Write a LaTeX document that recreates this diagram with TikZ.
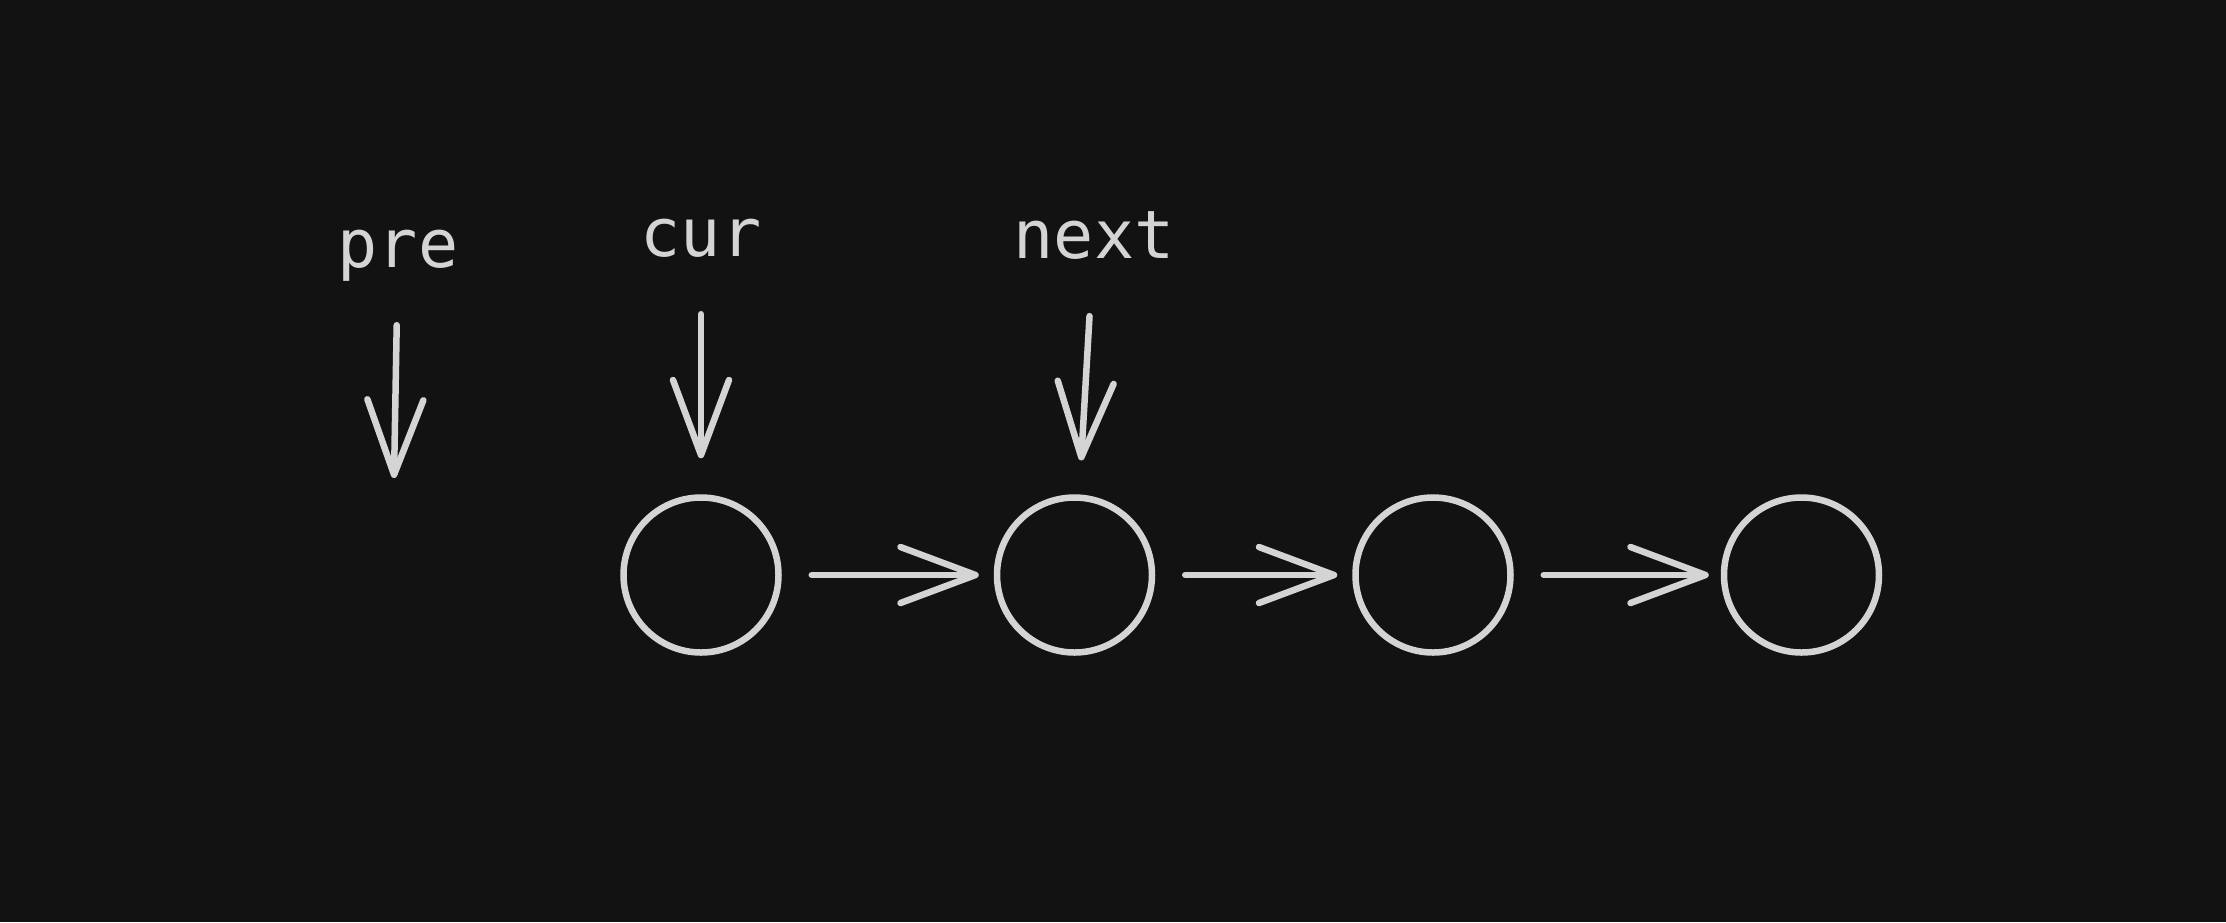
\documentclass[tikz,border=0pt]{standalone}
\usepackage{fontspec}
\setmonofont{DejaVu Sans Mono}
\usetikzlibrary{positioning,arrows.meta}
\definecolor{bgdark}{HTML}{121212}
\definecolor{chalk}{HTML}{D4D4D4}
\begin{document}
\begin{tikzpicture}[x=0.1mm,y=-0.1mm,node distance=21mm,
  listnode/.style={circle,draw=chalk,line width=0.65mm,minimum size=15.5mm,inner sep=0pt},
  ptrlabel/.style={text=chalk,font=\ttfamily\fontsize{19}{19}\selectfont,anchor=base,text depth=0.25em},
  link/.style={draw=chalk,line width=0.65mm,line cap=round,line join=round,
    -{Straight Barb[length=7.5mm,width=5.6mm,round]}},
  ptr/.style={link,shorten <=3.7mm}]
\fill[bgdark] (0,0) rectangle (2226,922);
\useasboundingbox (0,0) rectangle (2226,922);
% the list
\node[listnode] (n1) at (701,575) {};
\node[listnode, right=21.2mm of n1] (n2) {};
\node[listnode, right=19.7mm of n2] (n3) {};
\node[listnode, right=20.7mm of n3] (n4) {};
\draw[link, shorten <=3mm, shorten >=1.5mm] (n1) -- (n2);
\draw[link, shorten <=3mm, shorten >=1.5mm] (n2) -- (n3);
\draw[link, shorten <=3mm, shorten >=1.2mm] (n3) -- (n4);
% pointers
\node[ptrlabel] (pre) at (398,267) {pre};
\node[ptrlabel] (cur) at (701,256) {cur};
\node[ptrlabel] (next) at (1094,258) {next};
\coordinate (preend) at (394,478);
\draw[ptr] (pre) -- (preend);
\draw[ptr, shorten >=3.6mm] (cur) -- (n1);
\draw[ptr, shorten >=3.4mm] (next) -- (n2);
\end{tikzpicture}
\end{document}
